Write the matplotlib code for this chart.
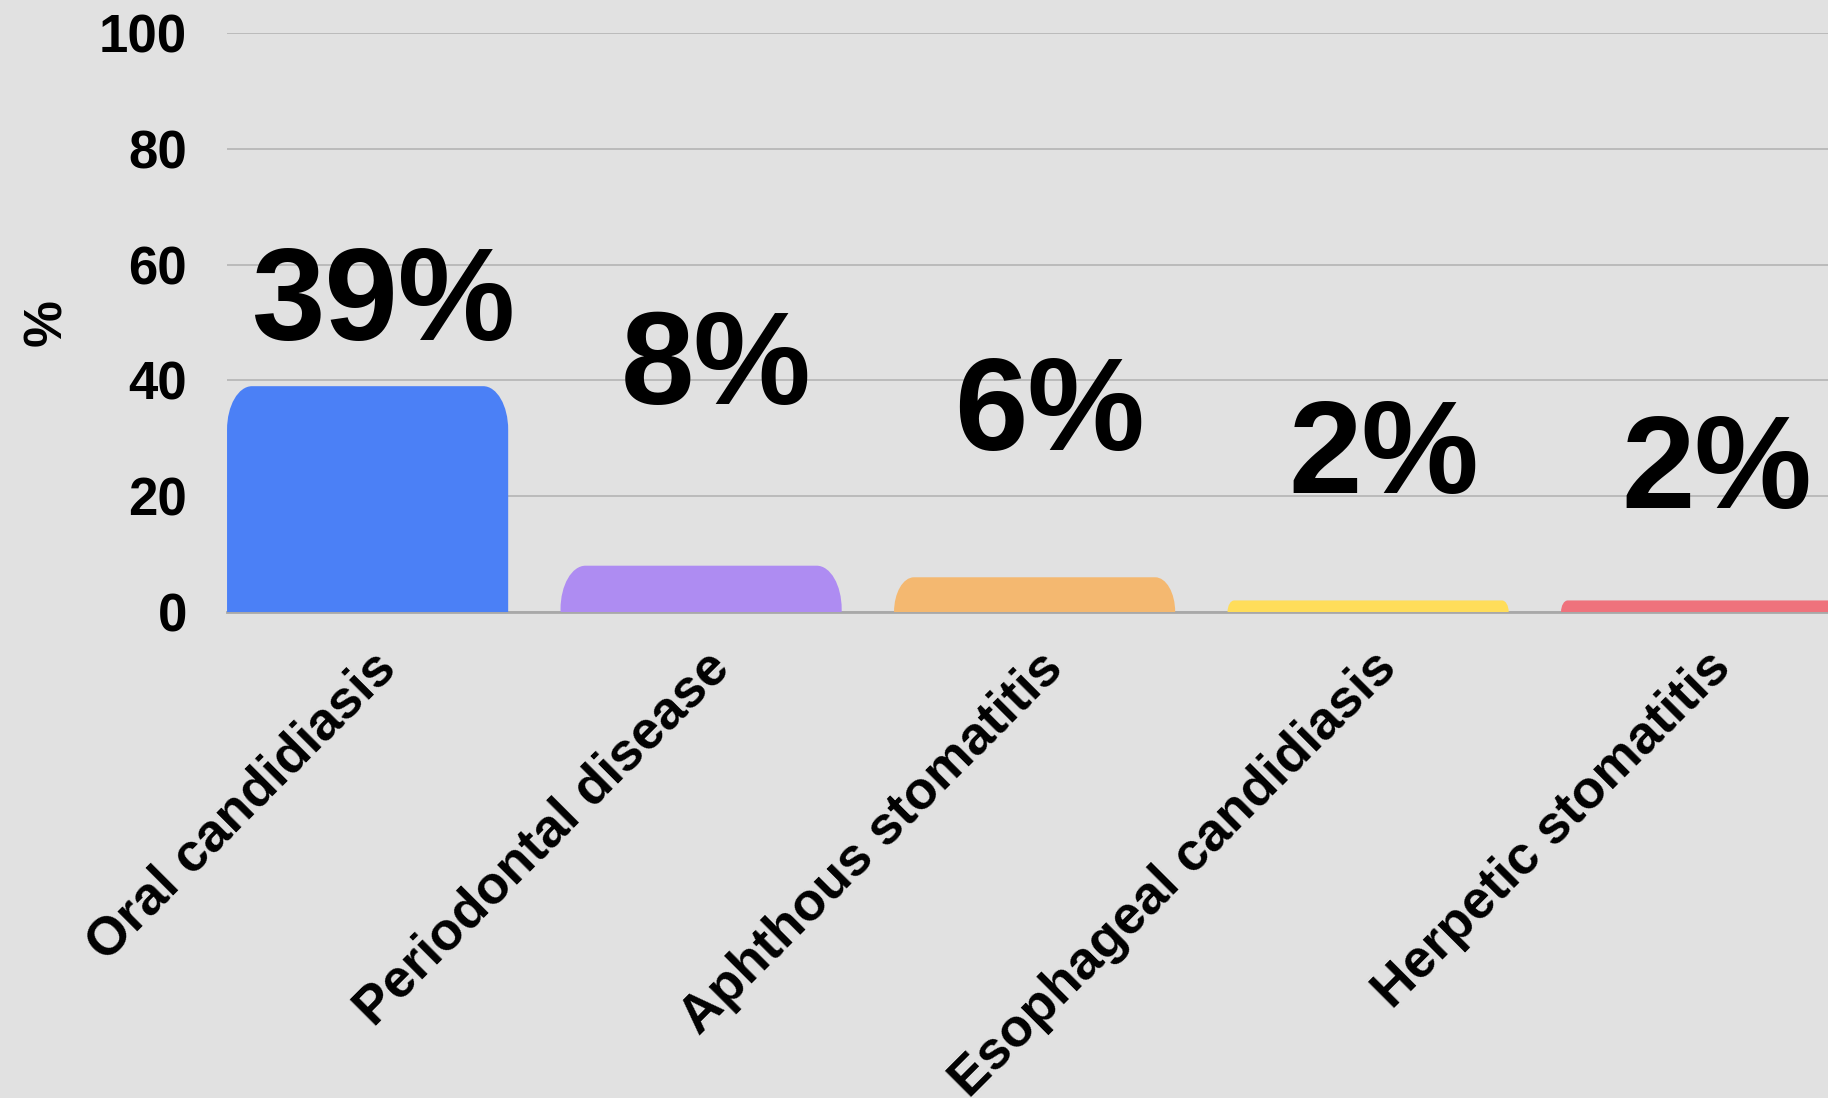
"""
Bar chart of oral lesion frequencies (percent)
"""
import matplotlib
matplotlib.use('Agg')
from matplotlib import pyplot as plt
from matplotlib.path import Path
from matplotlib.patches import PathPatch
from matplotlib.transforms import ScaledTranslation, blended_transform_factory


CATEGORIES = ['Oral candidiasis', 'Periodontal disease', 'Aphthous stomatitis',
              'Esophageal candidiasis', 'Herpetic stomatitis']
VALUES = [39, 8, 6, 2, 2]
VALUE_LABELS = ['39%', '8%', '6%', '2%', '2%']
LABEL_HEIGHTS = [47, 36, 28, 20.5, 18]   # baseline of the big % labels
Y_TICKS = [0, 20, 40, 60, 80, 100]
COLOURS = ['#4b80f6', '#ae8cf2', '#f4b870', '#ffdd5a', '#ef727c']
BG = '#e1e1e1'

plt.rcParams['font.family'] = ['Liberation Sans', 'DejaVu Sans']
plt.rcParams['font.weight'] = 'bold'


def rounded_top(ax, bar, colour, rx=0.075, ry=7.5):
    """replace a bar by a patch with rounded (elliptic) top corners"""
    x0, y0 = bar.get_x(), bar.get_y()
    x1, h = x0 + bar.get_width(), y0 + bar.get_height()
    scale = min(1.0, bar.get_height() / ry)
    rx, ry = rx * scale, ry * scale
    k = 0.5523
    verts = [(x0, y0), (x0, h - ry),
             (x0, h - ry + k * ry), (x0 + rx - k * rx, h), (x0 + rx, h),
             (x1 - rx, h),
             (x1 - rx + k * rx, h), (x1, h - ry + k * ry), (x1, h - ry),
             (x1, y0), (x0, y0)]
    codes = [Path.MOVETO, Path.LINETO,
             Path.CURVE4, Path.CURVE4, Path.CURVE4,
             Path.LINETO,
             Path.CURVE4, Path.CURVE4, Path.CURVE4,
             Path.LINETO, Path.CLOSEPOLY]
    patch = PathPatch(Path(verts, codes), facecolor=colour, edgecolor='none', zorder=3)
    ax.add_patch(patch)
    bar.set_visible(False)


fig = plt.figure(figsize=(18.28, 10.98), dpi=100, facecolor=BG)
ax = fig.add_axes([0.1242, 0.4426, 0.8758, 0.5274])
ax.set_facecolor(BG)

xs = list(range(len(CATEGORIES)))
bars = ax.bar(xs, VALUES, width=0.843, color=COLOURS, zorder=3)
for bar, colour in zip(bars, COLOURS):
    rounded_top(ax, bar, colour)

for x, lab, y in zip(xs, VALUE_LABELS, LABEL_HEIGHTS):
    ax.annotate(lab, (x, y), xytext=(11, 0), textcoords='offset points',
                ha='center', va='baseline', fontsize=95, fontweight='bold',
                color='black', zorder=4, annotation_clip=False)

ax.set_xlim(-0.4215, 4.379)
ax.set_ylim(0, 100)
ax.set_yticks(Y_TICKS)
ax.set_yticklabels([str(t) for t in Y_TICKS], fontsize=38, fontweight='bold')
ax.set_xticks(xs)
ax.set_xticklabels([])

# category labels, rotated 45 deg, right end just below each bar
trans = blended_transform_factory(ax.transData, ax.transAxes) + \
    ScaledTranslation(21 / 100, -48 / 100, fig.dpi_scale_trans)
for x, name in zip(xs, CATEGORIES):
    ax.text(x, 0, name, transform=trans, fontsize=38.5, fontweight='bold',
            rotation=45, ha='right', va='center', rotation_mode='anchor',
            clip_on=False)

ax.tick_params(axis='both', length=0)
ax.tick_params(axis='y', pad=29)
ax.yaxis.grid(True, color='#b4b4b4', linewidth=1.2, zorder=0)
ax.set_axisbelow(True)
for side in ['left', 'right', 'top']:
    ax.spines[side].set_visible(False)
ax.spines['bottom'].set_color('#a8a8a8')
ax.spines['bottom'].set_linewidth(2)
ax.spines['bottom'].set_zorder(2)

fig.text(0.026, 0.706, '%', rotation=90, fontsize=38, fontweight='bold',
         ha='center', va='center')

plt.savefig('out.png', dpi=100, facecolor=BG)
